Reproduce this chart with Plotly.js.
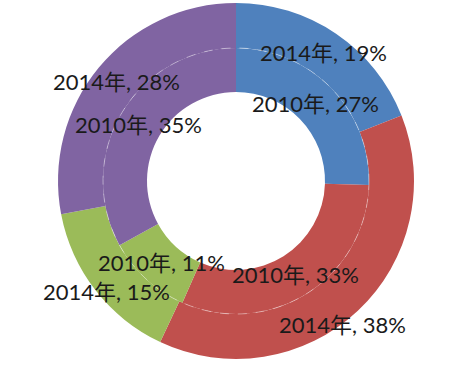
<!DOCTYPE html>
<html>
<head>
<meta charset="utf-8">
<script src="https://cdn.plot.ly/plotly-3.0.1.min.js"></script>
<style>html,body{margin:0;padding:0;background:#fff;}#chart{width:468px;height:372px;}</style>
</head>
<body>
<div id="chart"></div>
<script>
// Data
const categories = ['类别1', '类别2', '类别3', '类别4'];
const values2014 = [19, 38, 15, 28];
const values2010 = [27, 33, 11, 35];
const yearOuter = '2014年';
const yearInner = '2010年';

// Layout / style settings
const colors = ['#4F81BD', '#C0504D', '#9BBB59', '#8064A2'];
const W = 468, H = 372;
const cx = 236, cy = 181;          // pixel centre of the rings
const rOuter = 178, rMid = 133, rHole = 89;
// label nudges (pixels) for outer labels that were moved to avoid overlap
const outerNudge = [[0, 0], [0, 30], [-7, 15], [0, 0]];
const innerNudge = [[0, 0], [0, 0], [0, 0], [-2, 0]];

function domainFor(r) {
  return {
    x: [(cx - r) / W, (cx + r) / W],
    y: [(H - cy - r) / H, (H - cy + r) / H]
  };
}

function ring(values, hole, r) {
  return {
    type: 'pie',
    labels: categories,
    values: values,
    textinfo: 'none',
    hole: hole,
    sort: false,
    direction: 'clockwise',
    rotation: 0,
    domain: domainFor(r),
    marker: {colors: colors, line: {width: 0}},
    showlegend: false,
    hoverinfo: 'label+value'
  };
}

const outer = ring(values2014, rMid / rOuter, rOuter);
const inner = ring(values2010, rHole / rMid, rMid);

const font = {family: 'Lato, "Noto Sans CJK SC", sans-serif', size: 22, color: '#1a1a1a'};

function labelAnnotations(values, year, rLabel, nudge) {
  const total = values.reduce((a, b) => a + b, 0);
  let cum = 0;
  return values.map((v, i) => {
    const mid = (cum + v / 2) / total * 2 * Math.PI;
    cum += v;
    const px = cx + rLabel * Math.sin(mid) + nudge[i][0];
    const py = cy - rLabel * Math.cos(mid) + nudge[i][1];
    return {
      xref: 'paper', yref: 'paper',
      x: px / W, y: 1 - py / H,
      xanchor: 'center', yanchor: 'middle',
      text: year + ', ' + v + '%',
      showarrow: false,
      font: font
    };
  });
}

const d = domainFor(rMid);
const layout = {
  width: W, height: H,
  margin: {l: 0, r: 0, t: 0, b: 0},
  paper_bgcolor: '#ffffff',
  showlegend: false,
  shapes: [{
    type: 'circle', xref: 'paper', yref: 'paper',
    x0: d.x[0], x1: d.x[1], y0: d.y[0], y1: d.y[1],
    line: {color: 'rgba(255,255,255,0.4)', width: 1, dash: 'dash'},
    layer: 'above'
  }],
  annotations: labelAnnotations(values2014, yearOuter, (rOuter + rMid) / 2, outerNudge)
    .concat(labelAnnotations(values2010, yearInner, (rMid + rHole) / 2, innerNudge))
};

Plotly.newPlot('chart', [outer, inner], layout, {displayModeBar: false, staticPlot: true});
</script>
</body>
</html>
